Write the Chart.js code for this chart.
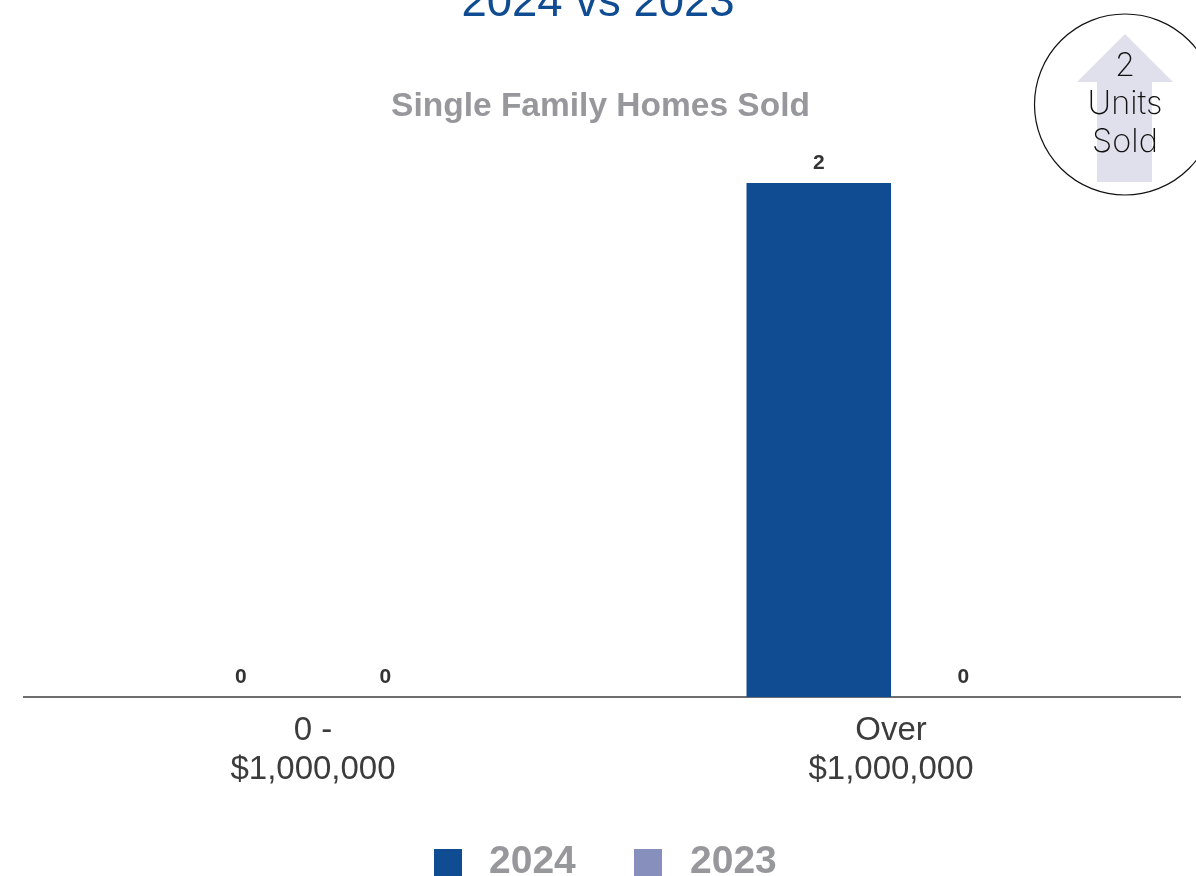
<!DOCTYPE html>
<html lang="en">
<head>
    <title>Single Family Homes Sold</title>
    <script src="https://cdn.jsdelivr.net/npm/chart.js@4/dist/chart.umd.min.js"></script>
    <style>
        html, body { margin: 0; padding: 0; background: #fff; }
        #page { position: relative; width: 1196px; height: 876px; overflow: hidden; font-family: "Liberation Sans", Arial, sans-serif; }
        #soldChart { position: absolute; left: 0; top: 0; }
        .heading { position: absolute; left: 0; text-align: center; white-space: nowrap; }
        #period { top: -24px; width: 1196px; font-size: 45.5px; line-height: 50px; color: #0f4c92; }
        #subtitle { top: 85px; width: 1201px; font-size: 33.5px; line-height: 40px; font-weight: bold; color: #97989c; }
        #badge { position: absolute; left: 0; top: 0; }
        #badgeText { position: absolute; left: 1045px; top: 46px; width: 160px; text-align: center; font-family: Inter, sans-serif; font-weight: 250; font-size: 32.5px; line-height: 38px; color: #111; }
        .legendBox { position: absolute; top: 849px; width: 28px; height: 28px; }
        .legendText { position: absolute; top: 838px; font-size: 39px; line-height: 44px; font-weight: bold; color: #97989c; }
    </style>
</head>
<body>
<div id="page">
    <canvas id="soldChart" width="1196" height="876"></canvas>

    <div class="heading" id="period">2024 vs 2023</div>
    <div class="heading" id="subtitle">Single Family Homes Sold</div>

    <svg id="badge" width="1196" height="876">
        <circle cx="1125" cy="104.5" r="90.5" fill="#fff" stroke="#111" stroke-width="1.2"></circle>
        <polygon points="1125,34 1173,82 1152,82 1152,182 1097,182 1097,82 1077,82" fill="#e0e0ec"></polygon>
    </svg>
    <div id="badgeText">2<br>Units<br>Sold</div>

    <div id="legend"></div>
</div>

<script type="text/javascript">

    const categories = [["0 -", "$1,000,000"], ["Over", "$1,000,000"]];
    const seriesNames = ["2024", "2023"];
    const sold2024 = [0, 2];
    const sold2023 = [0, 0];
    const seriesColors = ["#0f4c92", "#878fbd"];

    // Chart.js core has no data labels, so the counts are written above each bar here
    const barValueLabels = {
        id: "barValueLabels",
        afterDatasetsDraw(chart) {
            const ctx = chart.ctx;
            ctx.save();
            ctx.font = "bold 21px 'Liberation Sans'";
            ctx.fillStyle = "#333";
            ctx.textAlign = "center";
            ctx.textBaseline = "alphabetic";
            chart.data.datasets.forEach((dataset, i) => {
                chart.getDatasetMeta(i).data.forEach((bar, j) => {
                    ctx.fillText(dataset.data[j], bar.x, bar.y - 14);
                });
            });
            ctx.restore();
        }
    };

    new Chart("soldChart", {
        type: "bar",
        data: {
            labels: categories,
            datasets: [
                {label: seriesNames[0], data: sold2024, backgroundColor: seriesColors[0]},
                {label: seriesNames[1], data: sold2023, backgroundColor: seriesColors[1]}
            ]
        },
        options: {
            responsive: false,
            animation: false,
            categoryPercentage: 0.5,
            barPercentage: 1,
            layout: {padding: {left: 24, right: 16, top: 183, bottom: 0}},
            plugins: {
                legend: {display: false},
                title: {display: false},
                tooltip: {enabled: false}
            },
            scales: {
                x: {
                    grid: {display: false},
                    border: {display: true, color: "#6e6e70", width: 2},
                    ticks: {
                        color: "#3c3c3c",
                        padding: 6,
                        maxRotation: 0,
                        autoSkip: false,
                        font: {family: "'Liberation Sans'", size: 33, lineHeight: 1.18}
                    },
                    afterFit(scale) {
                        scale.height = 179;
                    }
                },
                y: {
                    display: false,
                    min: 0,
                    max: 2
                }
            }
        },
        plugins: [barValueLabels]
    });

    // legend sits below the axis with wider gaps than the built-in one allows
    const legendBoxLeft = [434, 634];
    const legendTextLeft = [489, 690];
    const legend = document.getElementById("legend");
    seriesNames.forEach((name, i) => {
        const box = document.createElement("div");
        box.className = "legendBox";
        box.style.left = legendBoxLeft[i] + "px";
        box.style.background = seriesColors[i];
        legend.appendChild(box);

        const text = document.createElement("div");
        text.className = "legendText";
        text.style.left = legendTextLeft[i] + "px";
        text.textContent = name;
        legend.appendChild(text);
    });

</script>
</body>
</html>
